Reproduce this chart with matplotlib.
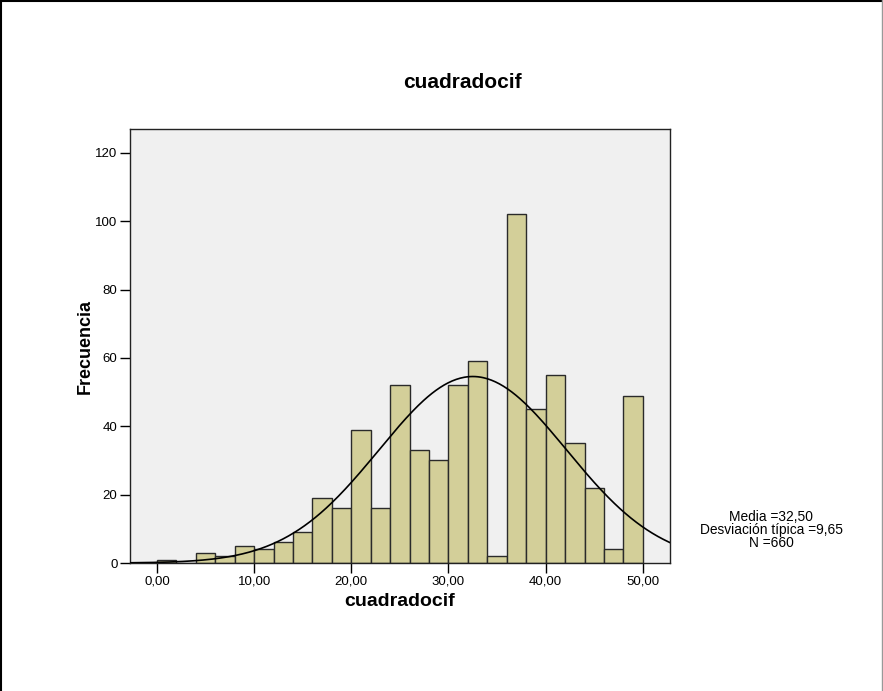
import numpy as np
import matplotlib
matplotlib.use("Agg")
import matplotlib.pyplot as plt
from matplotlib.lines import Line2D

plt.rcParams['font.family'] = ['Liberation Sans', 'DejaVu Sans']

# Data
bin_edges = np.arange(0, 52, 2)  # 0..50 by 2
counts = [1, 0, 3, 2, 5, 4, 6, 9, 19, 16, 39, 16, 52, 33, 30, 52, 59, 2, 102, 45, 55, 35, 22, 4, 49]
mean, sd, n = 32.50, 9.65, 660
x_ticks = [0, 10, 20, 30, 40, 50]
x_tick_labels = ["0,00", "10,00", "20,00", "30,00", "40,00", "50,00"]
y_ticks = [0, 20, 40, 60, 80, 100, 120]
title = "cuadradocif"
xlabel = "cuadradocif"
ylabel = "Frecuencia"
stats_lines = ["Media =32,50", "Desviación típica =9,65", "N =660"]

fig = plt.figure(figsize=(8.83, 6.91), dpi=100)
fig.patch.set_facecolor('white')
ax = fig.add_axes([130/883, 128/691, 540/883, 434/691])
ax.set_facecolor('#f0f0f0')

widths = np.diff(bin_edges)
ax.bar(bin_edges[:-1], counts, width=widths, align='edge', color='#d3cf99',
       edgecolor='#2a2a2a', linewidth=1.0, zorder=2)

xlim = (-2.78, 52.8)
xs = np.linspace(xlim[0], xlim[1], 400)
bw = 2
ys = n * bw / (sd * np.sqrt(2 * np.pi)) * np.exp(-0.5 * ((xs - mean) / sd) ** 2)
ax.plot(xs, ys, color='black', linewidth=1.2, zorder=3)

ax.set_xlim(*xlim)
ax.set_ylim(0, 127)
ax.set_xticks(x_ticks)
ax.set_xticklabels(x_tick_labels, fontsize=9.5)
ax.set_yticks(y_ticks)
ax.set_yticklabels([str(v) for v in y_ticks], fontsize=9.5)
ax.tick_params(axis='both', direction='out', length=7, width=1.0, color='black', pad=2)
for s in ax.spines.values():
    s.set_linewidth(1.0)
    s.set_color('#222222')

ax.set_xlabel(xlabel, fontsize=14, fontweight='bold', labelpad=4)
ax.set_ylabel(ylabel, fontsize=13, fontweight='bold', labelpad=1)

fig.text(462/883, 1 - 83/691, title, fontsize=15, fontweight='bold', ha='center', va='center')

fig.text(771/883, 1 - 530/691, "\n".join(stats_lines), fontsize=9.9, ha='center', va='center',
         linespacing=0.92)

# page frame: dark left/top edge, grey right edge
fig.add_artist(Line2D([1/883, 1/883], [0, 1], transform=fig.transFigure, color='black', linewidth=1.5))
fig.add_artist(Line2D([0, 1], [1 - 1/691, 1 - 1/691], transform=fig.transFigure, color='black', linewidth=1.5))
fig.add_artist(Line2D([882/883, 882/883], [0, 1], transform=fig.transFigure, color='#999999', linewidth=1))

fig.savefig("out.png", dpi=100)
